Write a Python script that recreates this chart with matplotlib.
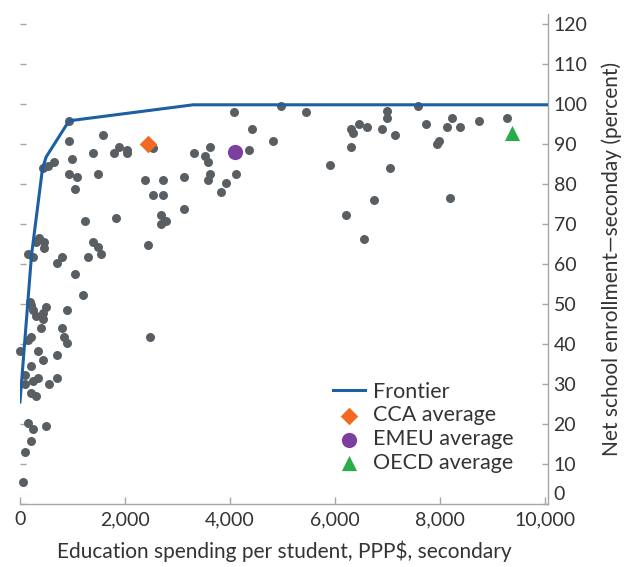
import matplotlib
matplotlib.use("Agg")
import matplotlib.pyplot as plt
from matplotlib.ticker import FuncFormatter
from matplotlib.transforms import ScaledTranslation

plt.rcParams['font.family'] = ['Lato', 'DejaVu Sans']

# country observations: spending per student (PPP$) and net enrollment (%)
spend = [935, 1587, 940, 1886, 2540, 1397, 1785, 2032, 2032, 3321,
         990, 444, 539, 648, 940, 1092, 1486, 1041, 2381, 2730,
         3124, 2534, 2730, 3124, 2680, 2781, 2680, 1245, 1835, 356,
         305, 451, 451, 152, 254, 1397, 1492, 1543, 794, 699,
         1295, 2432, 1041, 1194, 190, 204, 495, 254, 444, 305,
         444, 895, 400, 794, 844, 895, 2483, 159, 204, 0,
         349, 699, 444, 204, 101, 95, 254, 349, 546, 699,
         204, 305, 152, 254, 495, 204, 101, 51, 4071, 4966,
         5454, 6998, 6998, 4420, 3619, 3524, 3575, 4368, 4813, 3619,
         3575, 3924, 3823, 4121, 5905, 6305, 6350, 6452, 6604, 6305,
         6906, 7144, 7049, 6750, 6210, 6553, 7588, 7740, 8236, 8134,
         8388, 8738, 9283, 7937, 7988, 8192]
enroll = [95.8, 92.2, 90.7, 89.2, 89.0, 87.7, 87.7, 88.5, 87.7, 87.7,
          86.2, 83.9, 84.5, 85.6, 82.5, 81.7, 82.5, 78.8, 81.1, 81.1,
          81.7, 77.2, 77.2, 73.7, 72.2, 70.7, 70.0, 70.7, 71.5, 66.4,
          65.5, 65.5, 64.0, 62.5, 61.8, 65.5, 64.2, 62.6, 61.8, 60.3,
          61.8, 64.8, 57.4, 52.2, 50.6, 49.8, 49.2, 48.5, 47.8, 47.0,
          46.2, 48.5, 44.0, 44.0, 41.8, 40.3, 41.8, 41.0, 41.7, 38.2,
          38.2, 37.3, 35.9, 34.4, 32.2, 30.0, 30.7, 31.4, 30.0, 31.4,
          27.7, 27.0, 20.3, 18.8, 19.6, 15.8, 12.9, 5.5, 98.1, 99.6,
          98.1, 98.2, 96.6, 93.7, 89.2, 87.0, 85.5, 88.5, 90.7, 82.5,
          81.0, 80.2, 78.1, 82.5, 84.8, 93.7, 92.8, 95.1, 94.3, 89.2,
          93.7, 92.2, 84.0, 75.9, 72.2, 66.2, 99.6, 95.1, 96.6, 94.3,
          94.3, 95.8, 96.6, 89.9, 90.7, 76.6]

frontier_x = [0, 220, 430, 500, 935, 3300, 10060]
frontier_y = [25.5, 62.3, 84.0, 86.8, 95.8, 99.8, 99.8]

avg_names = ['CCA average', 'EMEU average', 'OECD average']
avg_x = [2432, 4096, 9379]
avg_y = [90.0, 88.1, 92.7]

text_col = '#333333'
axis_col = '#a6a6a6'

fig = plt.figure(figsize=(6.24, 5.67), dpi=100)
ax = fig.add_axes([20 / 624, 63 / 567, 528 / 624, 490 / 567])

ax.scatter(spend, enroll, s=42, color='#595e63', linewidths=0, zorder=2, clip_on=False)
ax.plot(frontier_x, frontier_y, color='#1c5fa3', linewidth=2.2, zorder=3, label='Frontier')
ax.scatter(avg_x[0], avg_y[0], marker='D', s=80, color='#f26a21', linewidths=0, zorder=4, label=avg_names[0])
ax.scatter(avg_x[1], avg_y[1], marker='o', s=120, color='#7b3f9e', linewidths=0, zorder=4, label=avg_names[1])
ax.scatter(avg_x[2], avg_y[2], marker='^', s=120, color='#2aac48', linewidths=0, zorder=4, label=avg_names[2])

ax.set_xlim(0, 10060)
ax.set_ylim(0, 122.5)
ax.set_xticks(range(0, 10001, 2000))
ax.set_yticks(range(0, 121, 10))
ax.xaxis.set_major_formatter(FuncFormatter(lambda v, p: f'{int(v):,}'))

for side in ['top', 'left']:
    ax.spines[side].set_visible(False)
for side in ['bottom', 'right']:
    ax.spines[side].set_color(axis_col)
    ax.spines[side].set_linewidth(1.0)

ax.tick_params(axis='y', left=True, right=True, labelleft=False, labelright=True,
               direction='in', length=4.5, width=1, color=axis_col,
               labelsize=14, labelcolor=text_col, pad=4)
ax.tick_params(axis='x', direction='in', length=5, width=1, color=axis_col,
               labelsize=14, labelcolor=text_col, pad=5)

# lift the "0" on the right so it clears "10,000"
zero_lbl = ax.yaxis.get_major_ticks()[0].label2
zero_lbl.set_transform(zero_lbl.get_transform() + ScaledTranslation(0, 8 / 72, fig.dpi_scale_trans))

ax.set_xlabel('Education spending per student, PPP$, secondary', fontsize=15,
              color=text_col, labelpad=9)
ax.yaxis.set_label_position('right')
ax.set_ylabel('Net school enrollment\u2014seconday (percent)', fontsize=15,
              color=text_col, labelpad=10)

leg = ax.legend(loc='lower left', bbox_to_anchor=(0.593, 0.063), frameon=False,
                fontsize=15.5, labelcolor=text_col, handlelength=1.5,
                handletextpad=0.35, labelspacing=0.18, borderaxespad=0, borderpad=0)

fig.savefig('out.png', dpi=100)
